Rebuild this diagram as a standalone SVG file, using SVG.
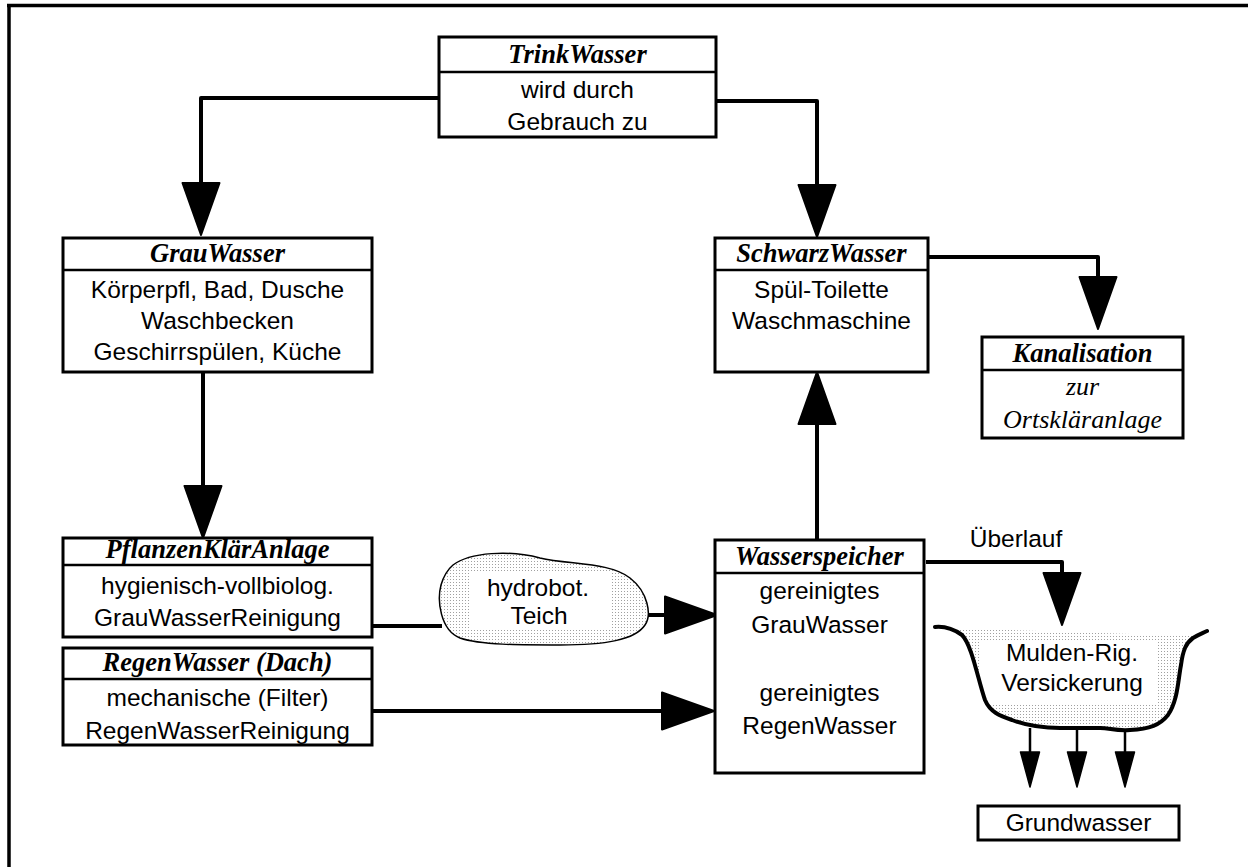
<svg xmlns="http://www.w3.org/2000/svg" width="1248" height="867" viewBox="0 0 1248 867">
<style>
.box{fill:#fff;stroke:#000;stroke-width:3}
.sep{stroke:#000;stroke-width:2.5}
.t{font-family:"Liberation Serif","Times New Roman",serif;font-weight:bold;font-style:italic;font-size:26.5px;text-anchor:middle;fill:#000}
.b{font-family:"Liberation Sans",Arial,sans-serif;font-size:24.5px;text-anchor:middle;fill:#000}
.si{font-family:"Liberation Serif","Times New Roman",serif;font-style:italic;font-size:26px;text-anchor:middle;fill:#000}
.c{fill:none;stroke:#000;stroke-width:4;stroke-linejoin:round}
.cs{fill:none;stroke:#000;stroke-width:2.5}
</style>
<defs>
<marker id="ah" markerUnits="userSpaceOnUse" markerWidth="60" markerHeight="46" viewBox="-3 -23 60 46" refX="0" refY="0" orient="auto"><path d="M0,-18.5 L52,0 L0,18.5 Z" fill="#000" stroke="#000" stroke-width="2" stroke-linejoin="round"/></marker>
<marker id="as" markerUnits="userSpaceOnUse" markerWidth="42" markerHeight="26" viewBox="-2 -13 42 26" refX="0" refY="0" orient="auto"><path d="M0,-9.5 L35,0 L0,9.5 Z" fill="#000" stroke="#000" stroke-width="1.5" stroke-linejoin="round"/></marker>
<pattern id="dots" width="3" height="3" patternUnits="userSpaceOnUse"><rect width="3" height="3" fill="#fff"/><rect width="1" height="1" fill="#a0a0a0"/></pattern>
</defs>
<rect width="1248" height="867" fill="#fff"/>
<path d="M7,5.5 H1248 M9,4 V867" stroke="#000" stroke-width="3.5" fill="none"/>

<g id="connectors">
<path class="c" d="M439,98 H201 V183" marker-end="url(#ah)"/>
<path class="c" d="M717,101 H817 V185" marker-end="url(#ah)"/>
<path class="c" d="M928,257 H1098 V277" marker-end="url(#ah)"/>
<path class="c" d="M203,372 V486" marker-end="url(#ah)"/>
<path class="c" d="M817,540 V424" marker-end="url(#ah)"/>
<path class="c" d="M372,626 H442"/>
<path class="c" d="M648,615 H665" marker-end="url(#ah)"/>
<path class="c" d="M372,711 H662" marker-end="url(#ah)"/>
<path class="c" d="M926,562 H1062 V573" marker-end="url(#ah)"/>
<path class="cs" d="M1030,728 V752" marker-end="url(#as)"/>
<path class="cs" d="M1077,728 V752" marker-end="url(#as)"/>
<path class="cs" d="M1125,729 V752" marker-end="url(#as)"/>
</g>

<g id="trinkwasser">
<rect class="box" x="439" y="37" width="277" height="100"/>
<line class="sep" x1="439" y1="72" x2="716" y2="72"/>
<text class="t" x="577.5" y="63">TrinkWasser</text>
<text class="b" x="577.5" y="98">wird durch</text>
<text class="b" x="577.5" y="130">Gebrauch zu</text>
</g>

<g id="grauwasser">
<rect class="box" x="63" y="238" width="309" height="134"/>
<line class="sep" x1="63" y1="270" x2="372" y2="270"/>
<text class="t" x="217.5" y="262">GrauWasser</text>
<text class="b" x="217.5" y="298">Körperpfl, Bad, Dusche</text>
<text class="b" x="217.5" y="329">Waschbecken</text>
<text class="b" x="217.5" y="360">Geschirrspülen, Küche</text>
</g>

<g id="schwarzwasser">
<rect class="box" x="715" y="238" width="213" height="134"/>
<line class="sep" x1="715" y1="270" x2="928" y2="270"/>
<text class="t" x="821.5" y="262">SchwarzWasser</text>
<text class="b" x="821.5" y="298">Spül-Toilette</text>
<text class="b" x="821.5" y="329">Waschmaschine</text>
</g>

<g id="kanalisation">
<rect class="box" x="982" y="337" width="201" height="101"/>
<line class="sep" x1="982" y1="370" x2="1183" y2="370"/>
<text class="t" x="1082.5" y="362">Kanalisation</text>
<text class="si" x="1082.5" y="395">zur</text>
<text class="si" x="1082.5" y="428">Ortskläranlage</text>
</g>

<g id="pflanzenklaeranlage">
<rect class="box" x="63" y="538" width="309" height="99"/>
<line class="sep" x1="63" y1="565" x2="372" y2="565"/>
<text class="t" x="217.5" y="558">PflanzenKlärAnlage</text>
<text class="b" x="217.5" y="594">hygienisch-vollbiolog.</text>
<text class="b" x="217.5" y="626">GrauWasserReinigung</text>
</g>

<g id="regenwasser">
<rect class="box" x="63" y="648" width="309" height="97"/>
<line class="sep" x1="63" y1="679" x2="372" y2="679"/>
<text class="t" x="217.5" y="671">RegenWasser (Dach)</text>
<text class="b" x="217.5" y="706">mechanische (Filter)</text>
<text class="b" x="217.5" y="739">RegenWasserReinigung</text>
</g>

<g id="teich">
<path d="M453,565 C470,552 510,550 540,558 C570,565 610,562 630,578 C648,592 652,615 645,625 C635,640 605,645 560,645 C520,645 480,645 460,638 C440,630 437,600 441,585 C444,575 447,570 453,565 Z" fill="url(#dots)" stroke="#000" stroke-width="1.5"/>
<rect x="470" y="571" width="140" height="57" fill="#fff"/>
<text class="b" x="538" y="596">hydrobot.</text>
<text class="b" x="539" y="624">Teich</text>
</g>

<g id="wasserspeicher">
<rect class="box" x="715" y="540" width="209" height="233"/>
<line class="sep" x1="715" y1="573" x2="924" y2="573"/>
<text class="t" x="819.5" y="565">Wasserspeicher</text>
<text class="b" x="819.5" y="599">gereinigtes</text>
<text class="b" x="819.5" y="633">GrauWasser</text>
<text class="b" x="819.5" y="701">gereinigtes</text>
<text class="b" x="819.5" y="734">RegenWasser</text>
</g>

<g id="ueberlauf">
<text class="b" x="1016" y="547">Überlauf</text>
</g>

<g id="mulde">
<path d="M950,628 L1193,636 C1186,643 1183,650 1181,665 C1178,680 1178,700 1168,715 C1160,725 1150,729 1130,730 C1115,731 1110,728 1100,728 L1060,728 C1040,728 1025,725 1012,720 C1000,716 990,712 985,700 C978,680 972,645 962,635 Z" fill="url(#dots)"/>
<rect x="980" y="641" width="177" height="62" fill="#fff"/>
<path d="M935,627 C945,626 955,630 962,635 C972,645 978,680 985,700 C990,712 1000,716 1012,720 C1025,725 1040,728 1060,728 L1100,728 C1110,728 1115,731 1130,730 C1150,729 1160,725 1168,715 C1178,700 1178,680 1181,665 C1183,650 1186,643 1193,638 C1198,635 1203,633 1207,631" fill="none" stroke="#000" stroke-width="4" stroke-linecap="round" stroke-linejoin="round"/>
<text class="b" x="1072" y="661">Mulden-Rig.</text>
<text class="b" x="1072" y="691">Versickerung</text>
</g>

<g id="grundwasser">
<rect class="box" x="978" y="806" width="201" height="34"/>
<text class="b" x="1078.5" y="831">Grundwasser</text>
</g>
</svg>
